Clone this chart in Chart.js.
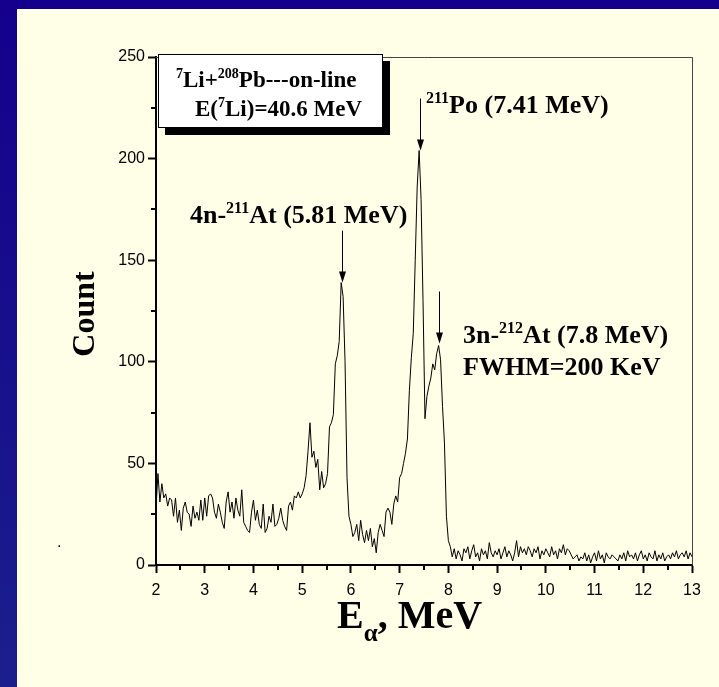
<!DOCTYPE html>
<html>
<head>
<meta charset="utf-8">
<script src="https://cdn.jsdelivr.net/npm/chart.js@4.4.1/dist/chart.umd.min.js"></script>
<style>
  html, body { margin: 0; padding: 0; }
  body { width: 719px; height: 687px; overflow: hidden; position: relative;
         background: linear-gradient(180deg, #14008c 0%, #1b1f8c 100%); }
  #panel { position: absolute; left: 17px; top: 9px; right: 0; bottom: 0; background: #ffffe7; }
  #wrap { position: absolute; left: 0; top: 0; width: 719px; height: 687px; }
</style>
</head>
<body>
<div id="panel"></div>
<div id="wrap"><canvas id="spectrumChart" width="719" height="687"></canvas></div>
<script>
// channel calibration: energy of channel i = E_START + i * E_STEP (MeV)
const E_START = 2.0;
const E_STEP = 0.04;

// alpha spectrum counts, one per channel (2.00 ... 13.00 MeV)
const counts = [
  28, 45, 31, 40, 33, 35, 29, 33, 32, 24, 33, 21, 27, 17, 28, 31, 26, 25, 19, 29, 23, 26, 22, 32, 22,
  33, 24, 34, 35, 33, 26, 23, 30, 26, 21, 18, 31, 36, 26, 31, 23, 33, 27, 24, 37, 21, 19, 17, 16, 26,
  32, 22, 27, 20, 18, 30, 16, 18, 24, 21, 30, 19, 20, 23, 28, 22, 19, 17, 29, 31, 27, 34, 33, 36, 33,
  35, 38, 44, 56, 70, 53, 56, 48, 52, 37, 46, 38, 40, 45, 68, 70, 74, 99, 103, 110, 139, 132, 100, 43, 24, 20,
  14, 16, 20, 12, 22, 15, 11, 17, 12, 18, 9, 13, 6, 16, 20, 17, 14, 26, 28, 26, 20, 30, 34, 31, 43,
  45, 50, 55, 62, 86, 102, 114, 150, 186, 204, 180, 130, 72, 83, 88, 92, 99, 96, 104, 108, 101, 78, 60, 24, 12,
  9, 4, 8, 3, 7, 5, 2, 8, 6, 9, 3, 7, 10, 4, 6, 2, 8, 5, 7, 3, 11, 6, 4, 7, 5,
  8, 3, 6, 9, 4, 7, 5, 2, 6, 12, 4, 9, 6, 8, 5, 9, 7, 4, 8, 6, 9, 3, 7, 5, 8,
  6, 4, 9, 5, 7, 3, 8, 6, 10, 5, 8, 7, 5, 3, 4, 5, 2, 4, 3, 6, 2, 5, 1, 4, 6,
  2, 7, 3, 5, 1, 6, 4, 3, 5, 4, 3, 2, 5, 3, 6, 2, 7, 4, 5, 3, 6, 2, 5, 7, 3,
  5, 2, 6, 4, 3, 7, 2, 5, 3, 6, 2, 4, 5, 3, 6, 4, 7, 3, 5, 6, 4, 7, 3, 6, 4
];

// marked peaks: energy (MeV) and the count where the arrow points
const peakEnergies = [5.81, 7.41, 7.8];
const peakTips = [139, 204, 109];

const xMin = 2, xMax = 13, xStep = 1;
const yMin = 0, yMax = 250, yStep = 50;

const points = counts.map((c, i) => ({ x: E_START + i * E_STEP, y: c }));

const SERIF = '"Liberation Serif", "Times New Roman", serif';

function drawRich(ctx, parts, x, y, size) {
  let cx = x;
  for (const p of parts) {
    const s = (p.sup || p.sub) ? Math.round(size * 0.62) : size;
    ctx.font = 'bold ' + s + 'px ' + SERIF;
    const dy = p.sup ? -size * 0.4 : (p.sub ? size * 0.32 : 0);
    ctx.fillText(p.t, cx, y + dy);
    cx += ctx.measureText(p.t).width;
  }
  return cx;
}

const decorations = {
  id: 'decorations',
  afterDraw(chart) {
    const { ctx, chartArea: a, scales: { x, y } } = chart;
    ctx.save();

    // thin frame on top and right
    ctx.strokeStyle = '#444';
    ctx.lineWidth = 1;
    ctx.beginPath();
    ctx.moveTo(a.left, a.top + 0.5);
    ctx.lineTo(a.right + 0.5, a.top + 0.5);
    ctx.lineTo(a.right + 0.5, a.bottom);
    ctx.stroke();

    // minor ticks
    ctx.strokeStyle = '#000';
    ctx.lineWidth = 2;
    ctx.beginPath();
    for (let v = xMin + 0.5; v < xMax; v += 1) {
      const px = Math.round(x.getPixelForValue(v));
      ctx.moveTo(px, a.bottom);
      ctx.lineTo(px, a.bottom + 5);
    }
    for (let v = yMin + 25; v < yMax; v += 50) {
      const py = Math.round(y.getPixelForValue(v));
      ctx.moveTo(a.left - 5, py);
      ctx.lineTo(a.left, py);
    }
    ctx.stroke();

    // arrows to the peaks
    ctx.lineWidth = 1;
    ctx.fillStyle = '#000';
    peakEnergies.forEach((e, k) => {
      const px = Math.round(x.getPixelForValue(e)) + 0.5;
      const tip = y.getPixelForValue(peakTips[k]);
      ctx.beginPath();
      ctx.moveTo(px, tip - 52);
      ctx.lineTo(px, tip - 6);
      ctx.stroke();
      ctx.beginPath();
      ctx.moveTo(px, tip);
      ctx.lineTo(px - 3.5, tip - 11);
      ctx.lineTo(px + 3.5, tip - 11);
      ctx.closePath();
      ctx.fill();
    });

    // reaction box with shadow
    ctx.fillStyle = '#000';
    ctx.fillRect(165, 61, 225, 74);
    ctx.fillStyle = '#fff';
    ctx.fillRect(158, 54, 225, 74);
    ctx.strokeStyle = '#000';
    ctx.lineWidth = 1;
    ctx.strokeRect(158.5, 54.5, 224, 73);

    ctx.fillStyle = '#000';
    ctx.textBaseline = 'alphabetic';
    ctx.textAlign = 'left';
    drawRich(ctx, [{ t: '7', sup: true }, { t: 'Li+' }, { t: '208', sup: true }, { t: 'Pb---on-line' }], 176, 87, 23);
    drawRich(ctx, [{ t: 'E(' }, { t: '7', sup: true }, { t: 'Li)=40.6 MeV' }], 195, 116, 23);

    drawRich(ctx, [{ t: '211', sup: true }, { t: 'Po (7.41 MeV)' }], 426, 113, 26);
    drawRich(ctx, [{ t: '4n-' }, { t: '211', sup: true }, { t: 'At (5.81 MeV)' }], 190, 223, 26);
    drawRich(ctx, [{ t: '3n-' }, { t: '212', sup: true }, { t: 'At (7.8 MeV)' }], 463, 343, 26);
    drawRich(ctx, [{ t: 'FWHM=200 KeV' }], 463, 375, 26);

    // axis titles
    drawRich(ctx, [{ t: 'E' }, { t: '\u03b1', sub: true }, { t: ', MeV' }], 337, 628, 40);
    ctx.save();
    ctx.translate(94, 314);
    ctx.rotate(-Math.PI / 2);
    ctx.textAlign = 'center';
    ctx.font = 'bold 32px ' + SERIF;
    ctx.fillText('Count', 0, 0);
    ctx.restore();

    ctx.font = '16px "Liberation Sans", Arial, sans-serif';
    ctx.fillText('.', 57, 547);

    ctx.restore();
  }
};

const tickFont = { family: '"Liberation Sans", Arial, sans-serif', size: 16 };

new Chart(document.getElementById('spectrumChart').getContext('2d'), {
  type: 'line',
  data: {
    datasets: [{
      data: points,
      borderColor: '#000',
      borderWidth: 1,
      pointRadius: 0,
      tension: 0,
      fill: false
    }]
  },
  options: {
    responsive: false,
    animation: false,
    devicePixelRatio: 1,
    layout: { padding: { top: 57, right: 27, left: 0, bottom: 0 } },
    plugins: { legend: { display: false }, tooltip: { enabled: false } },
    scales: {
      x: {
        type: 'linear',
        min: xMin,
        max: xMax,
        ticks: { stepSize: xStep, color: '#000', font: tickFont, padding: 8, maxRotation: 0, autoSkip: false },
        grid: { drawOnChartArea: false, tickLength: 8, tickColor: '#000', tickWidth: 2 },
        border: { color: '#000', width: 2 },
        afterFit: s => { s.height = 122; }
      },
      y: {
        min: yMin,
        max: yMax,
        ticks: { stepSize: yStep, color: '#000', font: tickFont, padding: 3 },
        grid: { drawOnChartArea: false, tickLength: 8, tickColor: '#000', tickWidth: 2 },
        border: { color: '#000', width: 2 },
        afterFit: s => { s.height = s.height; s.width = 156; }
      }
    }
  },
  plugins: [decorations]
});
</script>
</body>
</html>
